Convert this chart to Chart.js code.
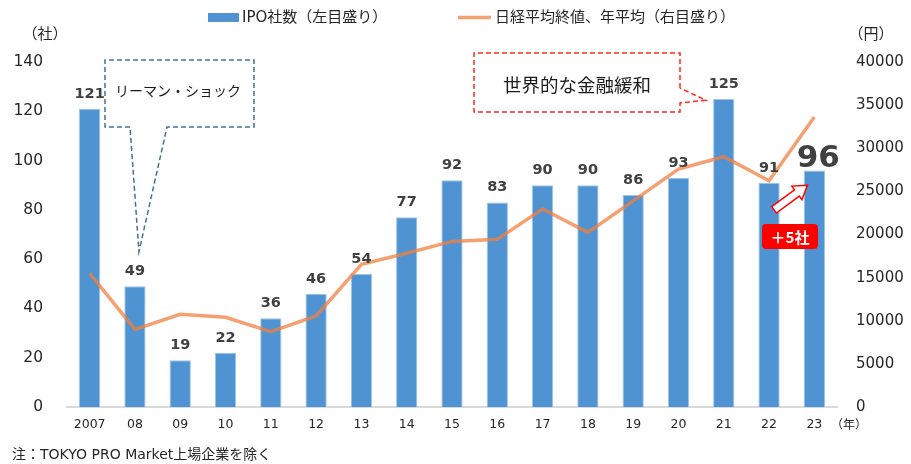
<!DOCTYPE html>
<html lang="ja">
<head>
<meta charset="utf-8">
<title>IPO社数と日経平均</title>
<script src="https://cdn.jsdelivr.net/npm/chart.js@4.4.1/dist/chart.umd.min.js"></script>
<style>
  html, body { margin: 0; padding: 0; background: #fff; }
  #myChart { display: block; }
</style>
</head>
<body>
<canvas id="myChart" width="911" height="464"></canvas>
<script>
// Data Block
const years = ['2007', '08', '09', '10', '11', '12', '13', '14', '15', '16', '17', '18', '19', '20', '21', '22', '23'];
const ipoCounts = [121, 49, 19, 22, 36, 46, 54, 77, 92, 83, 90, 90, 86, 93, 125, 91, 96];
const nikkeiAvg = [15500, 9000, 10750, 10400, 8730, 10550, 16540, 17820, 19200, 19440, 22960, 20250, 23900, 27590, 29020, 26240, 33620];
const leftTicks = [0, 140, 20];
const rightTicks = [0, 40000, 5000];

const latin = "'DejaVu Sans', 'Noto Sans CJK JP', sans-serif";
const jp = "'Noto Sans CJK JP', sans-serif";
const textColor = '#262626';

// draws bar values, legend, callouts and notes
const extras = {
  id: 'extras',
  afterDatasetsDraw(chart) {
    const c = chart.ctx;
    const bars = chart.getDatasetMeta(1).data;
    c.save();
    c.fillStyle = '#404040';
    c.textAlign = 'center';
    c.textBaseline = 'alphabetic';
    bars.forEach((bar, i) => {
      if (i === bars.length - 1) {
        c.font = 'bold 31px ' + latin;
        c.fillText(String(ipoCounts[i]), bar.x + 4, bar.y - 3);
      } else {
        c.font = 'bold 14.5px ' + latin;
        c.fillText(String(ipoCounts[i]), bar.x, bar.y - 11);
      }
    });
    c.restore();
  },
  afterDraw(chart) {
    const c = chart.ctx;
    const x = chart.scales.x;
    const y = chart.scales.y;
    c.save();

    // legend
    c.fillStyle = '#4f93d2';
    c.fillRect(208, 13, 31, 9);
    c.strokeStyle = 'rgba(240,128,64,0.75)';
    c.lineWidth = 3.5;
    c.beginPath();
    c.moveTo(458, 17.5);
    c.lineTo(491, 17.5);
    c.stroke();
    c.fillStyle = textColor;
    c.font = '15px ' + latin;
    c.textBaseline = 'middle';
    c.textAlign = 'left';
    c.fillText('IPO社数（左目盛り）', 242, 18);
    c.fillText('日経平均終値、年平均（右目盛り）', 495, 18);

    // axis units
    c.font = '15px ' + jp;
    c.textAlign = 'center';
    c.fillText('（社）', 45, 33);
    c.fillText('（円）', 871, 33);
    c.font = '12px ' + jp;
    c.fillText('（年）', 849, 424);

    // footnote
    c.textAlign = 'left';
    c.font = '14px ' + latin;
    c.fillText('注：TOKYO PRO Market上場企業を除く', 12, 455);

    // リーマン・ショック callout
    let tipX = x.getPixelForValue(1) + 4;
    let tipY = y.getPixelForValue(63);
    c.setLineDash([5, 3]);
    c.lineWidth = 1.5;
    c.strokeStyle = '#41719c';
    c.beginPath();
    c.moveTo(130, 127);
    c.lineTo(105, 127);
    c.lineTo(105, 60);
    c.lineTo(254, 60);
    c.lineTo(254, 127);
    c.lineTo(167, 127);
    c.lineTo(tipX, tipY);
    c.lineTo(130, 127);
    c.stroke();
    c.fillStyle = '#1a1a1a';
    c.font = '14px ' + jp;
    c.textAlign = 'center';
    c.fillText('リーマン・ショック', 178, 91);

    // 世界的な金融緩和 callout
    tipX = x.getPixelForValue(14) - 18;
    tipY = y.getPixelForValue(124.5);
    c.strokeStyle = '#ff2a1f';
    c.beginPath();
    c.moveTo(680, 88);
    c.lineTo(680, 53);
    c.lineTo(474, 53);
    c.lineTo(474, 112);
    c.lineTo(680, 112);
    c.lineTo(680, 103);
    c.lineTo(tipX, tipY);
    c.lineTo(680, 88);
    c.stroke();
    c.setLineDash([]);
    c.font = '18.5px ' + jp;
    c.fillText('世界的な金融緩和', 577, 85);

    // block arrow from 22 to 23
    const ax = x.getPixelForValue(15) + 5, ay = y.getPixelForValue(80);
    const bx = x.getPixelForValue(16) - 7, by = y.getPixelForValue(90);
    const len = Math.hypot(bx - ax, by - ay);
    c.translate(ax, ay);
    c.rotate(Math.atan2(by - ay, bx - ax));
    c.beginPath();
    c.moveTo(0, -4);
    c.lineTo(len - 13, -4);
    c.lineTo(len - 13, -8.5);
    c.lineTo(len, 0);
    c.lineTo(len - 13, 8.5);
    c.lineTo(len - 13, 4);
    c.lineTo(0, 4);
    c.closePath();
    c.fillStyle = '#fff';
    c.fill();
    c.strokeStyle = '#ff0000';
    c.lineWidth = 1.5;
    c.stroke();
    c.setTransform(1, 0, 0, 1, 0, 0);

    // +5社 badge
    c.fillStyle = '#ff0000';
    c.beginPath();
    c.roundRect(762, 224, 56, 25, 4);
    c.fill();
    c.fillStyle = '#fff';
    c.font = 'bold 15px ' + jp;
    c.textAlign = 'center';
    c.textBaseline = 'middle';
    c.fillText('＋5社', 790, 237);

    c.restore();
  }
};

// Config Block
const config = {
  type: 'bar',
  data: {
    labels: years,
    datasets: [{
      type: 'line',
      label: '日経平均終値、年平均（右目盛り）',
      data: nikkeiAvg,
      yAxisID: 'y1',
      borderColor: 'rgba(240,128,64,0.75)',
      borderWidth: 3.5,
      pointRadius: 0,
      tension: 0,
      order: 0
    }, {
      label: 'IPO社数（左目盛り）',
      data: ipoCounts,
      yAxisID: 'y',
      backgroundColor: '#4f93d2',
      borderColor: '#9cc4ea',
      borderWidth: 1,
      barPercentage: 0.47,
      categoryPercentage: 1,
      order: 1
    }]
  },
  options: {
    responsive: false,
    animation: false,
    layout: { padding: { top: 62, left: 0, right: 0, bottom: 0 } },
    plugins: {
      legend: { display: false },
      tooltip: { enabled: false }
    },
    scales: {
      x: {
        grid: { display: false, drawTicks: false },
        border: { color: '#d9d9d9', width: 2 },
        ticks: { color: textColor, font: { family: latin, size: 12.5 }, padding: 10, maxRotation: 0 },
        afterFit(s) { s.height = 57; }
      },
      y: {
        position: 'left',
        min: leftTicks[0],
        max: leftTicks[1],
        grid: { display: false, drawTicks: false },
        border: { display: false },
        ticks: { stepSize: leftTicks[2], color: textColor, font: { family: latin, size: 15.5 }, padding: 24 },
        afterFit(s) { s.width = 67; }
      },
      y1: {
        position: 'right',
        min: rightTicks[0],
        max: rightTicks[1],
        grid: { display: false, drawTicks: false },
        border: { display: false },
        ticks: {
          stepSize: rightTicks[2],
          color: textColor,
          font: { family: latin, size: 15 },
          padding: 19,
          callback: (v) => String(v)
        },
        afterFit(s) { s.width = 74; }
      }
    }
  },
  plugins: [extras]
};

// Render/Init Block
let ctx = document.getElementById('myChart').getContext('2d');
let myChart = new Chart(ctx, config);
</script>
</body>
</html>
